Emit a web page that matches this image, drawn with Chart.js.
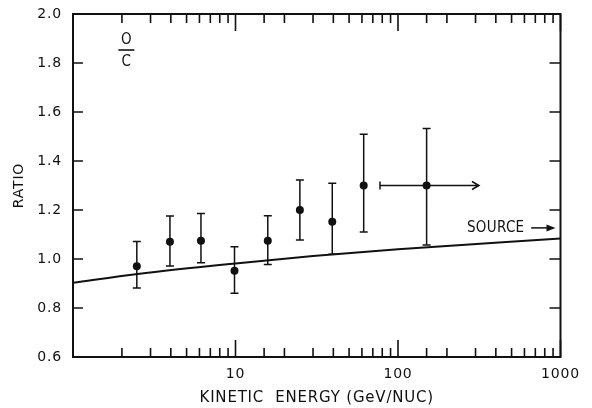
<!DOCTYPE html>
<html>
<head>
<meta charset="utf-8">
<script src="https://cdn.jsdelivr.net/npm/chart.js@4"></script>
<style>
	html, body { margin: 0; padding: 0; background: #fff; }
	#wrap { width: 592px; height: 408px; }
</style>
</head>
<body>
<div id="wrap"><canvas id="ocChart" width="592" height="408"></canvas></div>
<script>
// measured O/C ratios vs kinetic energy (GeV/nuc)
const energy = [2.47, 3.95, 6.13, 9.86, 15.8, 24.9, 39.4, 61.5, 150];
const ratio = [0.97, 1.07, 1.075, 0.952, 1.075, 1.20, 1.152, 1.30, 1.30];
const ratioHigh = [1.071, 1.176, 1.186, 1.05, 1.177, 1.322, 1.309, 1.509, 1.533];
const ratioLow = [0.882, 0.971, 0.985, 0.86, 0.978, 1.078, 1.019, 1.11, 1.057];
// last bin is an integral point: lower edge and arrow tip
const lastBinRange = [77.5, 315];

// source abundance curve
const sourceEnergy = [1, 2.5, 10, 30, 100, 1000];
const sourceRatio = [0.903, 0.939, 0.982, 1.012, 1.040, 1.084];

const xTickLabels = [10, 100, 1000];
const yTickValues = [0.6, 0.8, 1.0, 1.2, 1.4, 1.6, 1.8, 2.0];

(function initOCChart() {
	const FONT = '"DejaVu Sans", sans-serif';
	const NARROW = '"DejaVu Sans Condensed", "DejaVu Sans", sans-serif';
	const INK = '#111';

	// lettering on the original is widely spaced
	const spacing = {
		id: 'spacing',
		beforeDraw(chart) { chart.ctx.letterSpacing = '0.8px'; },
		afterDraw(chart) { chart.ctx.letterSpacing = '0px'; },
	};

	const frameAndTicks = {
		id: 'frameAndTicks',
		afterDatasetsDraw(chart) {
			const { ctx, chartArea: a, scales } = chart;
			ctx.save();
			ctx.strokeStyle = INK;
			ctx.lineWidth = 2;
			ctx.strokeRect(a.left, a.top, a.right - a.left, a.bottom - a.top);

			ctx.lineWidth = 1.6;
			ctx.beginPath();
			scales.x.ticks.forEach((t) => {
				const px = scales.x.getPixelForValue(t.value);
				const lg = Math.log10(t.value);
				const len = Math.abs(lg - Math.round(lg)) < 1e-6 ? 17 : 9;
				ctx.moveTo(px, a.bottom);
				ctx.lineTo(px, a.bottom - len);
				ctx.moveTo(px, a.top);
				ctx.lineTo(px, a.top + len);
			});
			yTickValues.forEach((v) => {
				const py = scales.y.getPixelForValue(v);
				ctx.moveTo(a.left, py);
				ctx.lineTo(a.left + 10, py);
				ctx.moveTo(a.right, py);
				ctx.lineTo(a.right - 11, py);
			});
			ctx.stroke();
			ctx.restore();
		},
	};

	const errorBars = {
		id: 'errorBars',
		afterDatasetsDraw(chart) {
			const { ctx, scales } = chart;
			const x = scales.x, y = scales.y;
			ctx.save();
			ctx.strokeStyle = INK;
			ctx.fillStyle = INK;
			ctx.lineWidth = 1.5;
			ctx.beginPath();
			energy.forEach((e, i) => {
				const px = x.getPixelForValue(e);
				const hi = y.getPixelForValue(ratioHigh[i]);
				const lo = y.getPixelForValue(ratioLow[i]);
				ctx.moveTo(px, hi); ctx.lineTo(px, lo);
				ctx.moveTo(px - 4, hi); ctx.lineTo(px + 4, hi);
				ctx.moveTo(px - 4, lo); ctx.lineTo(px + 4, lo);
			});
			// horizontal extent of the last bin, with open arrowhead
			const last = energy.length - 1;
			const py = y.getPixelForValue(ratio[last]);
			const x0 = x.getPixelForValue(lastBinRange[0]);
			const x1 = x.getPixelForValue(lastBinRange[1]);
			ctx.moveTo(x0, py); ctx.lineTo(x1, py);
			ctx.moveTo(x0, py - 4); ctx.lineTo(x0, py + 4);
			ctx.moveTo(x1 - 7, py - 4); ctx.lineTo(x1, py); ctx.lineTo(x1 - 7, py + 4);
			ctx.stroke();

			// SOURCE label with arrow pointing to the right edge
			const sy = y.getPixelForValue(1.127);
			const sx = x.getPixelForValue(600);
			const ax0 = x.getPixelForValue(660);
			const ax1 = chart.chartArea.right - 5;
			ctx.letterSpacing = '0.3px';
			ctx.font = '15px ' + NARROW;
			ctx.textAlign = 'right';
			ctx.textBaseline = 'middle';
			ctx.fillText('SOURCE', sx, sy);
			ctx.beginPath();
			ctx.moveTo(ax0, sy); ctx.lineTo(ax1 - 6, sy);
			ctx.stroke();
			ctx.beginPath();
			ctx.moveTo(ax1, sy); ctx.lineTo(ax1 - 9, sy - 3.5); ctx.lineTo(ax1 - 9, sy + 3.5);
			ctx.closePath();
			ctx.fill();

			// O/C label
			const lx = x.getPixelForValue(2.13);
			ctx.textAlign = 'center';
			ctx.font = '15px ' + NARROW;
			ctx.fillText('O', lx, y.getPixelForValue(1.894));
			ctx.fillText('C', lx, y.getPixelForValue(1.804));
			ctx.lineWidth = 1.6;
			ctx.beginPath();
			const ly = y.getPixelForValue(1.853);
			ctx.moveTo(lx - 8, ly); ctx.lineTo(lx + 8, ly);
			ctx.stroke();
			ctx.restore();
		},
	};

	const canvas = document.getElementById('ocChart');
	new Chart(canvas, {
		type: 'scatter',
		data: {
			datasets: [
				{
					data: energy.map((e, i) => ({ x: e, y: ratio[i] })),
					backgroundColor: INK,
					borderColor: INK,
					borderWidth: 0,
					pointRadius: 4,
					pointHoverRadius: 4,
				},
				{
					type: 'line',
					data: sourceEnergy.map((e, i) => ({ x: e, y: sourceRatio[i] })),
					borderColor: INK,
					borderWidth: 2,
					pointRadius: 0,
					cubicInterpolationMode: 'monotone',
					fill: false,
				},
			],
		},
		options: {
			responsive: false,
			animation: false,
			events: [],
			layout: { padding: { top: 14, right: 31.5, left: 0, bottom: 0 } },
			plugins: {
				legend: { display: false },
				tooltip: { enabled: false },
			},
			scales: {
				x: {
					type: 'logarithmic',
					min: 1,
					max: 1000,
					afterFit: (s) => {
						s.height = 51;
						s.paddingLeft = 0;
						s.paddingRight = 0;
					},
					grid: { display: false, drawTicks: false },
					border: { display: false },
					ticks: {
						autoSkip: false,
						maxRotation: 0,
						padding: 9,
						color: INK,
						font: { size: 14, family: FONT },
						callback: (v) => (xTickLabels.includes(v) ? String(v) : ''),
					},
					title: {
						display: true,
						text: 'KINETIC  ENERGY (GeV/NUC)',
						color: INK,
						font: { size: 15, family: FONT },
						padding: { top: 0, bottom: 1 },
					},
				},
				y: {
					min: 0.6,
					max: 2.0,
					afterFit: (s) => {
						s.width = 73;
						s.paddingTop = 0;
						s.paddingBottom = 0;
					},
					afterBuildTicks: (s) => { s.ticks = yTickValues.map((v) => ({ value: v })); },
					grid: { display: false, drawTicks: false },
					border: { display: false },
					ticks: {
						padding: 11,
						color: INK,
						font: { size: 14, family: FONT },
						callback: (v) => Number(v).toFixed(1),
					},
					title: {
						display: true,
						text: 'RATIO',
						color: INK,
						font: { size: 14, family: FONT },
						padding: { top: 11, bottom: 0 },
					},
				},
			},
		},
		plugins: [spacing, errorBars, frameAndTicks],
	});
})();
</script>
</body>
</html>
